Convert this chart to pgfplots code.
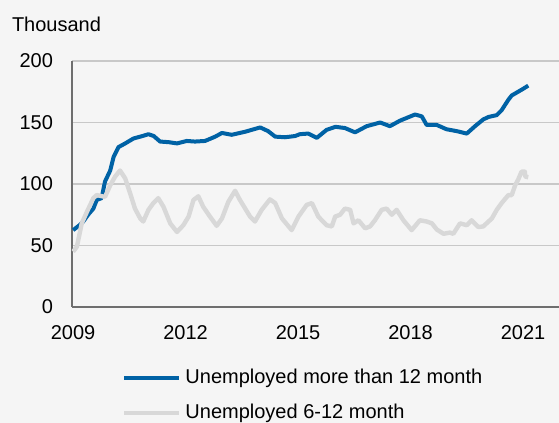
\documentclass[border=0pt]{standalone}
\usepackage{fontspec}
\setmainfont{Liberation Sans}
\usepackage{pgfplots}
\pgfplotsset{compat=1.18}

\definecolor{bgcol}{HTML}{F5F5F5}
\definecolor{longblue}{RGB}{0,98,165}
\definecolor{shortgray}{RGB}{216,216,216}
\definecolor{gridgray}{RGB}{200,200,200}
\definecolor{axisgray}{RGB}{110,110,110}

\begin{document}
\begin{tikzpicture}
  % page background
  \fill[bgcol] (-36pt,-58pt) rectangle (243.5pt,153.5pt);
  \begin{axis}[
      scale only axis,
      width=243.5pt, height=123pt,
      xmin=2008.97, xmax=2021.96,
      ymin=0, ymax=200,
      xtick={2009,2012,2015,2018,2021},
      ytick={0,50,100,150,200},
      major tick length=0pt,
      axis x line*=bottom, axis y line*=left,
      axis line style={-, draw=axisgray, line width=0.6pt},
      ymajorgrids, grid style={gridgray, line width=0.6pt},
      /pgf/number format/assume math mode=true,
      /pgf/number format/1000 sep={},
      tick label style={font=\fontsize{10}{12}\selectfont},
      xticklabel style={yshift=-5.5pt},
      yticklabel style={xshift=-6pt},
      legend cell align=left,
      legend style={at={(0.102,-0.235)}, anchor=north west, draw=none, fill=none,
                    inner sep=0pt, row sep=4.9pt, font=\fontsize{10}{12}\selectfont},
      legend image code/.code={\draw[#1] (0pt,0pt) -- (27.5pt,0pt);},
    ]
    \addplot[longblue, line width=2pt, line join=round] coordinates {
      (2009.00,62.5) (2009.15,66) (2009.27,69.5) (2009.40,75) (2009.54,80)
      (2009.63,87) (2009.76,88.5) (2009.85,102) (2009.99,111) (2010.08,122)
      (2010.21,130) (2010.39,133) (2010.61,137) (2010.85,139) (2011.01,140.5)
      (2011.15,139) (2011.32,134.5) (2011.55,134) (2011.77,133) (2012.03,135)
      (2012.25,134.5) (2012.52,135) (2012.79,138.5) (2012.97,141.5) (2013.23,140)
      (2013.59,142.5) (2013.99,146) (2014.20,143) (2014.39,138.5) (2014.65,138)
      (2014.92,139) (2015.05,140.5) (2015.27,141) (2015.50,137.5) (2015.76,144)
      (2016.00,146.5) (2016.25,145.5) (2016.52,142) (2016.83,147) (2017.19,150)
      (2017.45,147) (2017.72,151.5) (2018.12,156.5) (2018.30,155) (2018.43,148)
      (2018.70,148) (2018.96,144.5) (2019.23,143) (2019.50,141) (2019.72,147)
      (2019.94,152.5) (2020.08,154.5) (2020.30,156) (2020.43,160) (2020.61,168.5)
      (2020.70,172) (2020.87,175) (2021.01,177.5) (2021.14,180)
    };
    \addlegendentry{Unemployed more than 12 month}
    \addplot[shortgray, line width=2.2pt, line join=round] coordinates {
      (2009.00,45) (2009.10,49) (2009.23,68) (2009.37,77.5) (2009.54,88.5)
      (2009.63,91) (2009.85,89.5) (2009.99,99) (2010.12,106) (2010.25,111)
      (2010.39,104.5) (2010.52,92.5) (2010.65,80) (2010.79,72) (2010.87,69.5)
      (2011.01,79) (2011.14,84.5) (2011.27,88.5) (2011.41,81.5) (2011.59,68)
      (2011.77,61) (2011.94,66.5) (2012.08,73.5) (2012.21,87) (2012.34,90)
      (2012.47,81.5) (2012.65,73.5) (2012.83,66) (2012.97,72) (2013.14,85.5)
      (2013.32,94.5) (2013.45,87) (2013.59,80) (2013.72,73.5) (2013.85,69.5)
      (2014.03,79) (2014.25,87.5) (2014.39,84.5) (2014.57,72) (2014.83,62.5)
      (2015.01,73.5) (2015.23,83) (2015.37,84.5) (2015.54,73.5) (2015.76,66.5)
      (2015.90,65.5) (2015.99,73.5) (2016.12,75) (2016.25,80) (2016.39,79)
      (2016.48,68) (2016.61,70.5) (2016.79,64) (2016.92,65.5) (2017.05,70.5)
      (2017.23,79) (2017.36,80) (2017.50,75) (2017.63,79) (2017.81,70.5)
      (2018.03,62.5) (2018.25,70.5) (2018.43,69.5) (2018.57,68) (2018.70,63)
      (2018.88,59.5) (2019.05,60.5) (2019.14,59.5) (2019.32,68) (2019.50,66.5)
      (2019.63,70.5) (2019.81,65) (2019.94,65.5) (2020.08,69.5) (2020.17,72)
      (2020.30,79) (2020.43,84.5) (2020.61,91) (2020.70,91) (2020.79,99)
      (2020.87,103.5) (2020.96,110) (2021.05,110) (2021.06,106) (2021.14,105.5)
    };
    \addlegendentry{Unemployed 6-12 month}
  \end{axis}
  \node[anchor=base west, inner sep=0pt, font=\fontsize{10}{12}\selectfont]
    at (-30.2pt,137.5pt) {Thousand};
  \pgfresetboundingbox
  \path[use as bounding box] (-36pt,-58pt) rectangle (243.5pt,153.5pt);
\end{tikzpicture}
\end{document}
